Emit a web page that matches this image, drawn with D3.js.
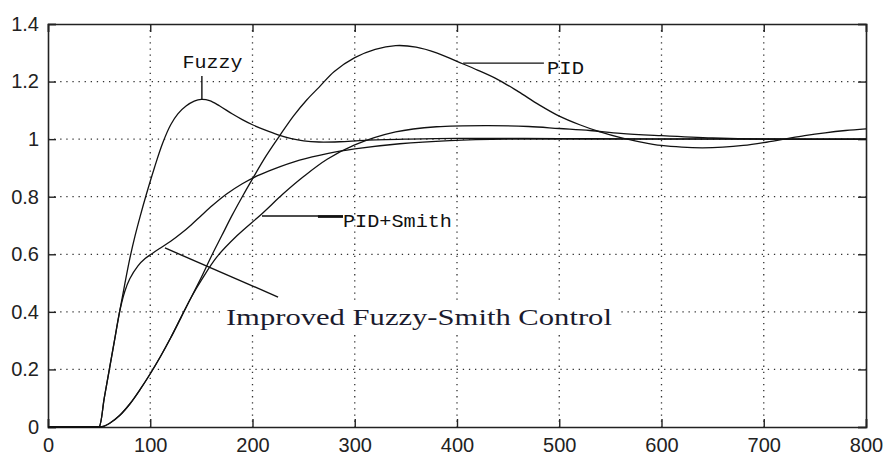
<!DOCTYPE html>
<html>
<head>
<meta charset="utf-8">
<script src="https://cdn.jsdelivr.net/npm/d3@7"></script>
<style>
  html, body { margin: 0; padding: 0; background: #fff; }
  svg { display: block; }
</style>
</head>
<body>
<div id="chart"></div>
<script>
// tick values
var xTicks = [0, 100, 200, 300, 400, 500, 600, 700, 800];
var yTicks = [0, 0.2, 0.4, 0.6, 0.8, 1, 1.2, 1.4];

// step responses, [time, output]
var fuzzy = [[0,0],[48,0],[50,0],[55,0.1],[60,0.2],[65,0.3],[70,0.4],[75,0.495],[80,0.585],
  [85,0.662],[90,0.73],[96,0.806],[104,0.9],[112,0.985],[120,1.05],[127,1.088],
  [135,1.115],[143,1.132],[150,1.138],[158,1.134],[168,1.115],[180,1.088],[190,1.068],
  [200,1.05],[212,1.032],[225,1.015],[238,1.002],[250,0.994],[265,0.99],[285,0.991],
  [310,0.996],[350,1.0],[400,1.003],[500,1.002],[600,1.0],[800,1.0]];

var pid = [[0,0],[48,0],[50,0],[55,0.003],[60,0.012],[70,0.04],[80,0.08],[90,0.13],[100,0.185],
  [110,0.245],[120,0.31],[130,0.38],[140,0.45],[150,0.52],[160,0.595],[170,0.665],
  [180,0.735],[190,0.8],[200,0.862],[213,0.94],[227,1.014],[240,1.08],[253,1.136],
  [265,1.18],[280,1.235],[300,1.283],[320,1.312],[340,1.325],[360,1.32],[380,1.3],
  [400,1.27],[420,1.24],[440,1.207],[460,1.165],[480,1.12],[500,1.08],[520,1.05],
  [540,1.025],[560,1.005],[580,0.99],[600,0.978],[620,0.972],[640,0.97],[660,0.972],
  [680,0.978],[700,0.988],[720,1.0],[740,1.012],[760,1.022],[780,1.03],[800,1.036]];

var pidSmith = [[0,0],[48,0],[50,0],[55,0.003],[60,0.012],[70,0.04],[80,0.08],[90,0.13],[100,0.185],
  [110,0.245],[120,0.31],[130,0.38],[140,0.45],[150,0.51],[165,0.59],[185,0.665],[209,0.74],
  [230,0.81],[250,0.87],[273,0.93],[300,0.98],[340,1.025],[380,1.043],[430,1.047],
  [470,1.044],[500,1.037],[530,1.03],[560,1.02],[600,1.012],[650,1.004],[700,1.0],[800,1.0]];

var improved = [[0,0],[48,0],[50,0],[55,0.1],[60,0.2],[65,0.3],[70,0.4],[75,0.47],[80,0.515],
  [88,0.56],[95,0.585],[102,0.603],[110,0.622],[120,0.645],[130,0.672],[140,0.702],
  [150,0.735],[161,0.77],[175,0.81],[190,0.845],[205,0.873],[220,0.895],[246,0.927],
  [273,0.95],[300,0.966],[344,0.984],[393,0.995],[450,1.0],[800,1.0]];

var series = [fuzzy, pid, pidSmith, improved];

var W = 885, H = 455;
var svg = d3.select("#chart").append("svg")
    .attr("width", W)
    .attr("height", H)
    .style("font-family", "'Liberation Sans', Arial, sans-serif");

var x = d3.scaleLinear().domain([0, 800]).range([48, 866]);
var y = d3.scaleLinear().domain([0, 1.4]).range([427, 24]);

// dotted grid
var grid = svg.append("g")
    .attr("stroke", "#333")
    .attr("stroke-width", 1.3)
    .attr("stroke-dasharray", "1.3,4.8");
grid.selectAll("line.gx")
    .data(xTicks.slice(1, -1))
    .enter().append("line")
    .attr("x1", function (d) { return x(d); })
    .attr("x2", function (d) { return x(d); })
    .attr("y1", y(1.4)).attr("y2", y(0));
grid.selectAll("line.gy")
    .data(yTicks.slice(1, -1))
    .enter().append("line")
    .attr("x1", x(0)).attr("x2", x(800))
    .attr("y1", function (d) { return y(d); })
    .attr("y2", function (d) { return y(d); });

// axes, ticks pointing inwards
var fmt = function (d) { return String(d); };
var axBottom = svg.append("g").attr("transform", "translate(0," + y(0) + ")")
    .call(d3.axisBottom(x).tickValues(xTicks).tickSize(-8).tickPadding(11).tickFormat(fmt));
var axLeft = svg.append("g").attr("transform", "translate(" + x(0) + ",0)")
    .call(d3.axisLeft(y).tickValues(yTicks).tickSize(-8).tickPadding(9).tickFormat(fmt));
var axTop = svg.append("g").attr("transform", "translate(0," + y(1.4) + ")")
    .call(d3.axisTop(x).tickValues(xTicks).tickSize(-8).tickFormat(""));
var axRight = svg.append("g").attr("transform", "translate(" + x(800) + ",0)")
    .call(d3.axisRight(y).tickValues(yTicks).tickSize(-8).tickFormat(""));

[axBottom, axLeft, axTop, axRight].forEach(function (g) {
    g.select(".domain").attr("stroke", "#222").attr("stroke-width", 1.6);
    g.selectAll(".tick line").attr("stroke", "#222").attr("stroke-width", 1.4);
    g.selectAll(".tick text").attr("fill", "#222").style("font-size", "20px")
        .style("font-family", "'Liberation Sans', Arial, sans-serif");
});

// curves
var line = d3.line()
    .x(function (d) { return x(d[0]); })
    .y(function (d) { return y(d[1]); })
    .curve(d3.curveCatmullRom.alpha(0.5));

svg.append("g").selectAll("path")
    .data(series)
    .enter().append("path")
    .attr("d", line)
    .attr("fill", "none")
    .attr("stroke", "#111")
    .attr("stroke-width", 1.3);

// annotations
var ann = svg.append("g").attr("stroke", "#111").attr("stroke-width", 1.4);
var mono = "'Liberation Mono', 'Courier New', monospace";

// Fuzzy
ann.append("line").attr("x1", x(150.5)).attr("x2", x(150.5)).attr("y1", y(1.219)).attr("y2", y(1.139));
svg.append("text").attr("x", x(131.5)).attr("y", y(1.247))
    .attr("textLength", 60).attr("lengthAdjust", "spacingAndGlyphs")
    .style("font-family", mono).style("font-size", "19px").attr("fill", "#111")
    .text("Fuzzy");

// PID
ann.append("line").attr("x1", x(406)).attr("x2", x(485)).attr("y1", y(1.264)).attr("y2", y(1.264));
svg.append("text").attr("x", x(488)).attr("y", y(1.226))
    .attr("textLength", 37).attr("lengthAdjust", "spacingAndGlyphs")
    .style("font-family", mono).style("font-size", "19px").attr("fill", "#111")
    .text("PID");

// PID+Smith
ann.append("line").attr("x1", x(209.3)).attr("x2", x(288.5)).attr("y1", y(0.733)).attr("y2", y(0.733));
ann.append("line").attr("x1", x(264)).attr("x2", x(288.5)).attr("y1", y(0.731)).attr("y2", y(0.731))
    .attr("stroke-width", 2.6);
svg.append("text").attr("x", x(288.5)).attr("y", y(0.695))
    .attr("textLength", 109).attr("lengthAdjust", "spacingAndGlyphs")
    .style("font-family", mono).style("font-size", "19px").attr("fill", "#111")
    .text("PID+Smith");

// Improved Fuzzy-Smith Control
ann.append("line").attr("x1", x(114.4)).attr("x2", x(225)).attr("y1", y(0.622)).attr("y2", y(0.4515));
svg.append("rect").attr("x", 220).attr("y", 300).attr("width", 400).attr("height", 33).attr("fill", "#fff");
svg.append("text").attr("x", x(174)).attr("y", y(0.354))
    .attr("textLength", 386).attr("lengthAdjust", "spacingAndGlyphs")
    .style("font-family", "'Liberation Serif', 'Times New Roman', serif").style("font-size", "23px")
    .attr("fill", "#1b1b2e")
    .text("Improved Fuzzy-Smith Control");
</script>
</body>
</html>
